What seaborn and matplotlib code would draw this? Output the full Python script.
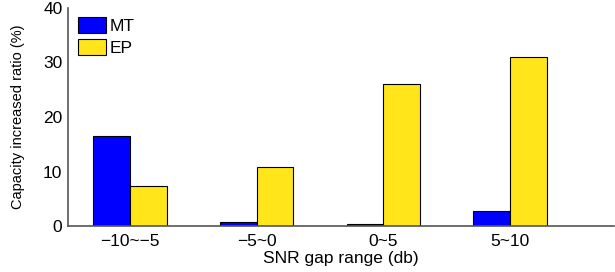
import numpy as np
import pandas as pd
import seaborn as sns
import matplotlib.pyplot as plt
from matplotlib.patches import Patch

categories = ['\u221210~\u22125', '\u22125~0', '0~5', '5~10']
mt_values = [16.6, 0.8, 0.4, 2.7]
ep_values = [7.4, 10.9, 26.0, 31.0]
series = ['MT', 'EP']
colors = ['#0000FF', '#FFE51A']

df = pd.DataFrame({
    'range': categories * 2,
    'ratio': mt_values + ep_values,
    'method': ['MT'] * 4 + ['EP'] * 4,
})

sns.set_style('white', {'text.color': 'black', 'axes.labelcolor': 'black',
                        'xtick.color': 'black', 'ytick.color': 'black'})
plt.rcParams['font.family'] = ['Liberation Sans', 'DejaVu Sans']

fig = plt.figure(figsize=(6.15, 2.72), dpi=100)
ax = fig.add_axes([68 / 615, 46 / 272, 546 / 615, 218 / 272])

sns.barplot(data=df, x='range', y='ratio', hue='method', hue_order=series,
            palette=colors, width=0.58, edgecolor='black', linewidth=0.8,
            saturation=1, legend=False, ax=ax)

ax.set_ylim(0, 40)
ax.set_xlim(-0.49, 3.82)
ax.set_yticks([0, 10, 20, 30, 40])
ax.tick_params(axis='y', direction='in', length=4, width=0.8, color='#555555',
               labelsize=12.5, pad=4)
ax.tick_params(axis='x', length=0, labelsize=12.5, pad=6)
for side in ['top', 'right']:
    ax.spines[side].set_visible(False)
for side in ['left', 'bottom']:
    ax.spines[side].set_color('#555555')
    ax.spines[side].set_linewidth(1.2)

ax.set_xlabel('SNR gap range (db)', fontsize=12.5, labelpad=1)
ax.set_ylabel('Capacity increased ratio (%)', fontsize=10.5, labelpad=13)

handles = [Patch(facecolor=c, edgecolor='black', linewidth=0.8) for c in colors]
ax.legend(handles, series, loc='upper left', bbox_to_anchor=(0.0055, 0.99),
          frameon=False, fontsize=12.5, handlelength=1.6, handleheight=1.0,
          handletextpad=0.2, labelspacing=0.3, borderaxespad=0)

fig.savefig('out.png', dpi=100)
